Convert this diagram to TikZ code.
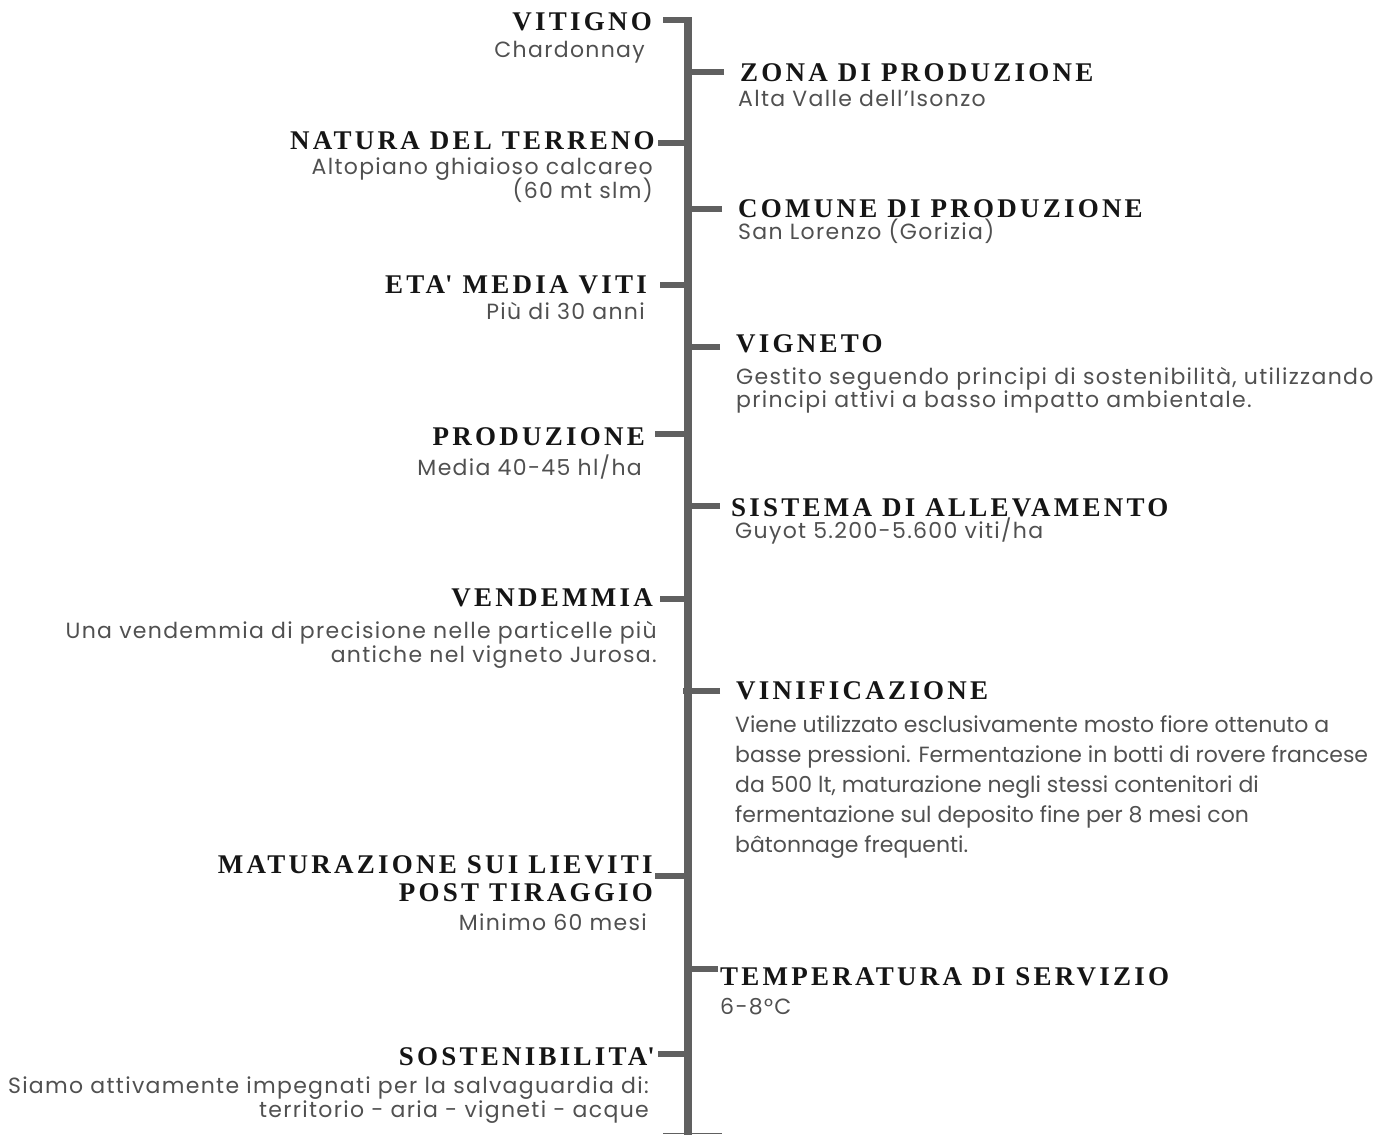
\documentclass[tikz,border=0pt]{standalone}
\usepackage{fontspec}
\setmainfont{Liberation Serif}
\newfontfamily\headfont[LetterSpace=12]{Liberation Serif}
\newfontfamily\labelfont[LetterSpace=6]{Poppins}
\newfontfamily\parafont{Poppins}
\usepackage{xcolor}
\usepackage{tikz}
\usetikzlibrary{positioning}

\definecolor{spinegray}{HTML}{606060}
\definecolor{headblack}{HTML}{151515}
\definecolor{subgray}{HTML}{505050}
\newcommand{\tightskip}{\lineskiplimit=-30pt\relax}

\begin{document}
\begin{tikzpicture}[
x=1pt, y=-1pt,
spine/.style={draw=spinegray, line width=8pt},
tick/.style={draw=spinegray, line width=6pt},
foot/.style={draw=spinegray, line width=1.5pt},
ltitle/.style={font=\headfont\bfseries\fontsize{27}{28}\selectfont, text=headblack, inner sep=0pt, anchor=base east, align=right},
rtitle/.style={font=\headfont\bfseries\fontsize{27}{28}\selectfont, text=headblack, inner sep=0pt, anchor=base west, align=left},
lsub/.style={font=\labelfont\fontsize{22}{24}\selectfont\tightskip, text=subgray, inner sep=0pt, anchor=base east, align=right},
rsub/.style={font=\labelfont\fontsize{22}{23}\selectfont\tightskip, text=subgray, inner sep=0pt, anchor=base west, align=left},
para/.style={font=\parafont\fontsize{22}{30}\selectfont\tightskip, text=subgray, inner sep=0pt, anchor=base west, align=left}
]
\useasboundingbox (0,0) rectangle (1397,1135);

% Spine
\coordinate (top) at (688,17);
\coordinate (bottom) at (688,1135);
\draw[spine] (top) -- (bottom);
\coordinate (footl) at (663,1133.5);
\coordinate (footr) at (722,1133.5);
\draw[foot] (footl) -- (footr);

% Ticks
\foreach \name/\x/\y in {vitigno/663/20, zona/724/72, natura/658/143, comune/722/209,
  eta/660/285, vigneto/720/347, produzione/655/434, sistema/720/506,
  vendemmia/660/599, vinificazione/720/691, maturazione/655/876,
  temperatura/718/969, sostenibilita/658/1054}{
  \coordinate (t-\name) at (\x,\y);
  \draw[tick] (t-\name) -- (t-\name -| top);
}
\coordinate (stub) at (683,691);
\draw[tick] (stub) -- (stub -| top);

% Left entries
\node[ltitle] (vitigno) at (652,30) {VITIGNO};
\node[lsub] (vitigno-sub) at (645,57) {Chardonnay};

\node[ltitle] (natura) at (655,149) {NATURA DEL TERRENO};
\node[lsub] (natura-sub) at (653,198) {Altopiano ghiaioso calcareo\\(60 mt slm)};

\node[ltitle] (eta) at (647,293) {ETA\textquotesingle{} MEDIA VITI};
\node[lsub] (eta-sub) at (645,319) {Più di 30 anni};

\node[ltitle] (produzione) at (645,445) {PRODUZIONE};
\node[lsub] (produzione-sub) at (642,475) {Media 40-45 hl/ha};

\node[ltitle] (vendemmia) at (653,606) {VENDEMMIA};
\node[lsub] (vendemmia-sub) at (657,662) {Una vendemmia di precisione nelle particelle più\\antiche nel vigneto Jurosa.};

\node[ltitle] (maturazione) at (653,901) {MATURAZIONE SUI LIEVITI\\POST TIRAGGIO};
\node[lsub] (maturazione-sub) at (647,930) {Minimo 60 mesi};

\node[ltitle] (sostenibilita) at (655,1065) {SOSTENIBILITA\textquotesingle};
\node[lsub] (sostenibilita-sub) at (649,1117) {Siamo attivamente impegnati per la salvaguardia di:\\territorio - aria - vigneti - acque};

% Right entries
\node[rtitle] (zona) at (740,81) {ZONA DI PRODUZIONE};
\node[rsub] (zona-sub) at (738,106) {Alta Valle dell’Isonzo};

\node[rtitle] (comune) at (738,217) {COMUNE DI PRODUZIONE};
\node[rsub] (comune-sub) at (738,239) {San Lorenzo (Gorizia)};

\node[rtitle] (vigneto) at (736,352) {VIGNETO};
\node[rsub] (vigneto-sub) at (736,407) {Gestito seguendo principi di sostenibilità, utilizzando\\principi attivi a basso impatto ambientale.};

\node[rtitle] (sistema) at (731,516) {SISTEMA DI ALLEVAMENTO};
\node[rsub] (sistema-sub) at (735,538) {Guyot 5.200-5.600 viti/ha};

\node[rtitle] (vinificazione) at (736,699) {VINIFICAZIONE};
\node[para] (vinificazione-sub) at (735,852) {Viene utilizzato esclusivamente mosto fiore ottenuto a\\basse pressioni. Fermentazione in botti di rovere francese\\da 500 lt, maturazione negli stessi contenitori di\\fermentazione sul deposito fine per 8 mesi con\\bâtonnage frequenti.};

\node[rtitle] (temperatura) at (720,985) {TEMPERATURA DI SERVIZIO};
\node[rsub] (temperatura-sub) at (720,1014) {6-8°C};

\end{tikzpicture}
\end{document}
